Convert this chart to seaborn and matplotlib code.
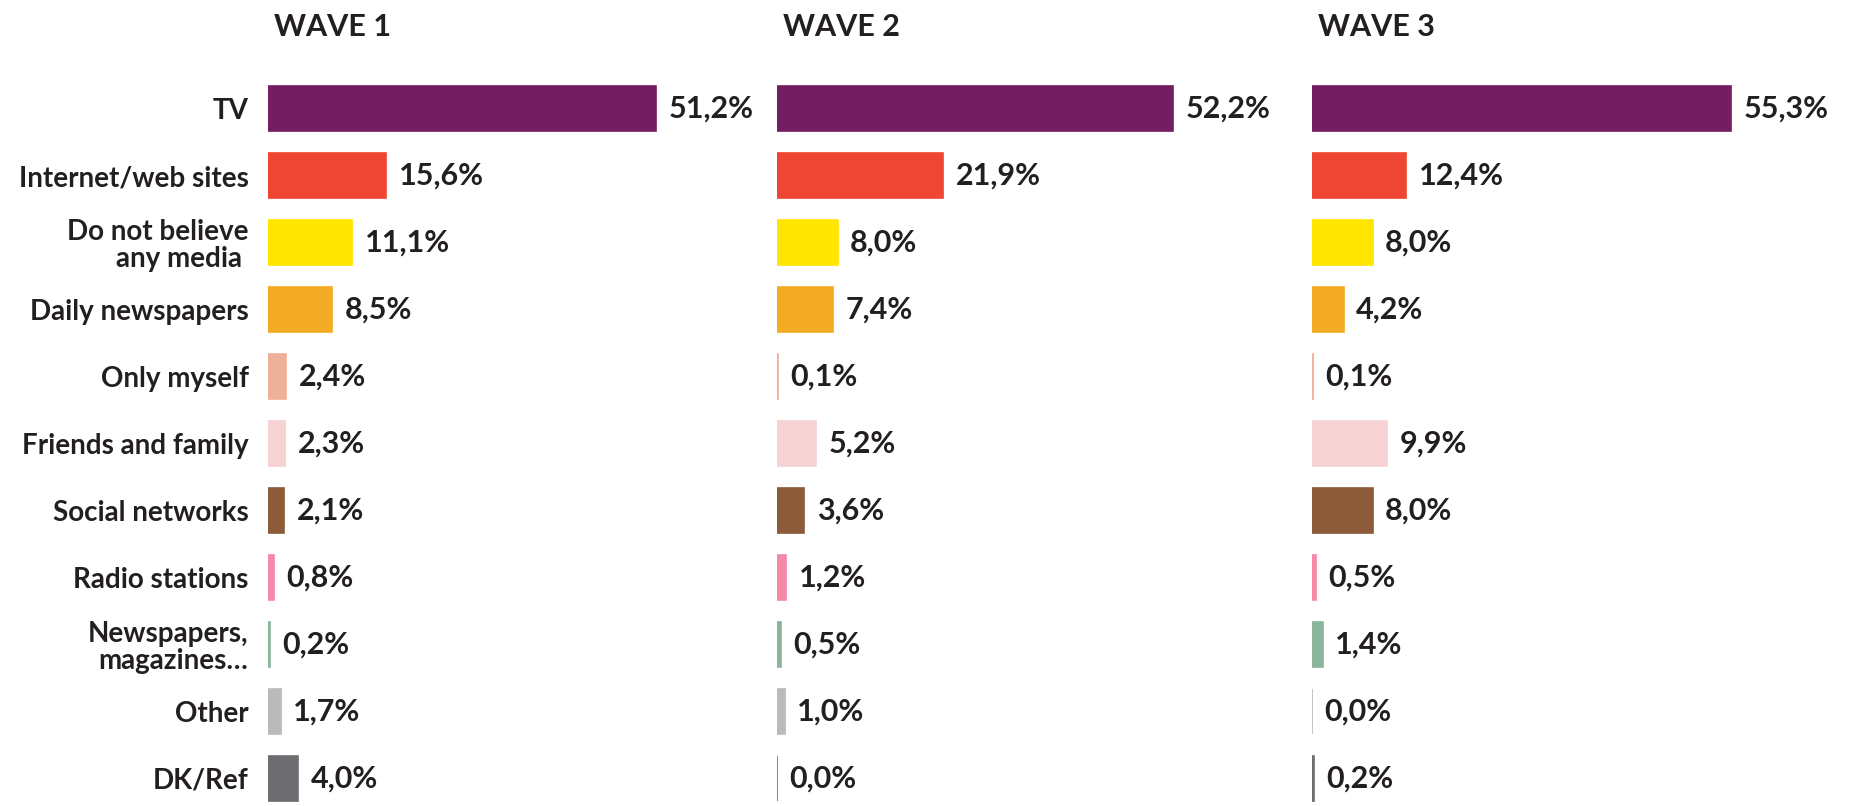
import matplotlib
matplotlib.use("Agg")
import matplotlib.pyplot as plt
import seaborn as sns
import pandas as pd

# categories, top to bottom
categories = [
    "TV", "Internet/web sites", "Do not believe\nany media ", "Daily newspapers",
    "Only myself", "Friends and family", "Social networks", "Radio stations",
    "Newspapers,\nmagazines\u2026", "Other", "DK/Ref",
]
waves = ["WAVE 1", "WAVE 2", "WAVE 3"]
wave1 = [51.2, 15.6, 11.1, 8.5, 2.4, 2.3, 2.1, 0.8, 0.2, 1.7, 4.0]
wave2 = [52.2, 21.9, 8.0, 7.4, 0.1, 5.2, 3.6, 1.2, 0.5, 1.0, 0.0]
wave3 = [55.3, 12.4, 8.0, 4.2, 0.1, 9.9, 8.0, 0.5, 1.4, 0.0, 0.2]
colors = [
    "#731E60", "#EE4632", "#FFE500", "#F2AB22", "#EFB09A", "#F6D2D2",
    "#8B5B3A", "#F48AA8", "#8BB59B", "#BABABB", "#6E6E72",
]

df = pd.DataFrame({
    "category": categories * 3,
    "value": wave1 + wave2 + wave3,
    "wave": [w for w in waves for _ in categories],
})
palette = dict(zip(categories, colors))

sns.set_style("white")
plt.rcParams["font.family"] = ["Lato", "DejaVu Sans"]
TEXT = "#231F20"

W, H = 1851, 806
fig = plt.figure(figsize=(W / 100, H / 100), dpi=100)

# layout in pixels
lefts = [268, 777, 1312]
px_per_pct = 7.58
xmax = 62
top_px = 62
row0, row_step = 108.5, 67.0
ylim = ((H - row0) / row_step, (top_px - row0) / row_step)

for k, wave in enumerate(waves):
    ax = fig.add_axes([lefts[k] / W, 0, px_per_pct * xmax / W, (H - top_px) / H])
    sub = df[df["wave"] == wave]
    sns.barplot(data=sub, y="category", x="value", hue="category", palette=palette,
                order=categories, hue_order=categories, orient="h", width=0.67,
                dodge=False, legend=False, ax=ax, saturation=1, linewidth=1.2)
    # edges in the bar colour so that 0% still shows a thin line
    for patch, c in zip(ax.patches, categories):
        patch.set_edgecolor(palette[c])
    ax.set_xlim(0, xmax)
    ax.set_ylim(*ylim)
    ax.set_xlabel("")
    ax.set_ylabel("")
    ax.set_xticks([])
    sns.despine(ax=ax, left=True, bottom=True)
    ax.set_title(wave, loc="left", x=0.013, pad=19, fontsize=22, fontweight="bold",
                 color=TEXT)
    for i, v in enumerate(sub["value"]):
        ax.annotate(f"{v:.1f}%".replace(".", ","), xy=(v, i), xytext=(9, 0),
                    textcoords="offset points", va="center", ha="left",
                    fontsize=22, fontweight="bold", color=TEXT, annotation_clip=False)
    if k == 0:
        ax.tick_params(axis="y", length=0, pad=14)
        ax.set_yticks(range(len(categories)))
        ax.set_yticklabels(categories, fontsize=20, fontweight="bold", color=TEXT,
                           linespacing=1.05)
    else:
        ax.set_yticks([])

fig.savefig("out.png", dpi=100)
